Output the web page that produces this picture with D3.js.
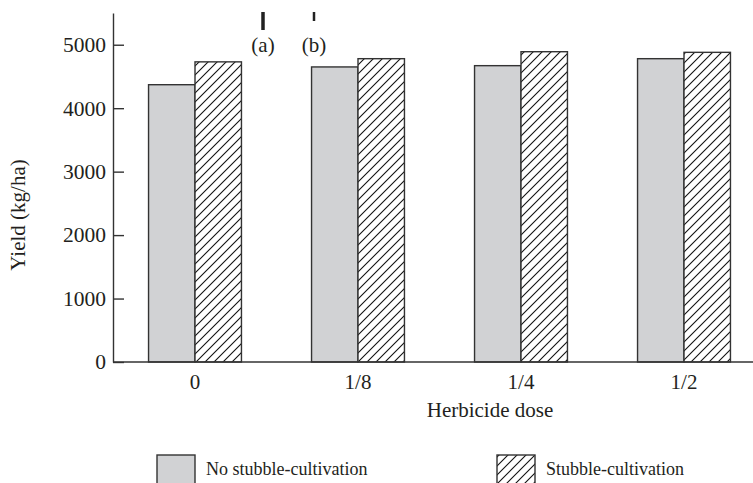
<!DOCTYPE html>
<html>
<head>
<meta charset="utf-8">
<script src="https://cdn.jsdelivr.net/npm/d3@7"></script>
<style>
  html, body { margin: 0; padding: 0; background: #fff; }
  svg { display: block; }
  text { font-family: "Liberation Serif", "Times New Roman", serif; fill: #231f20; }
</style>
</head>
<body>
<script>
const categories = ["0", "1/8", "1/4", "1/2"];
const seriesNames = ["No stubble-cultivation", "Stubble-cultivation"];
const noStubble = [4370, 4650, 4670, 4780];
const stubble = [4730, 4780, 4890, 4880];
const yTicks = [0, 1000, 2000, 3000, 4000, 5000];
const panelMarks = ["(a)", "(b)"];

const W = 753, H = 483;
const svg = d3.select("body").append("svg").attr("width", W).attr("height", H);

const defs = svg.append("defs");
const pat = defs.append("pattern")
  .attr("id", "hatch").attr("patternUnits", "userSpaceOnUse")
  .attr("width", 9).attr("height", 9);
pat.append("rect").attr("width", 9).attr("height", 9).attr("fill", "#fff");
pat.append("path")
  .attr("d", "M0,9 L9,0 M-2,2 L2,-2 M7,11 L11,7")
  .attr("stroke", "#111").attr("stroke-width", 1.1);

const x0 = 113, yBase = 362, yTop = 13;
const x = d3.scaleBand().domain(categories).range([113.5, 765.5])
  .paddingInner(0.43).paddingOuter(0.215);
const y = d3.scaleLinear().domain([0, 5500]).range([yBase, yTop]);

const fills = ["#d1d2d4", "url(#hatch)"];
const data = [noStubble, stubble];
const bw = x.bandwidth() / 2;

data.forEach((vals, s) => {
  svg.append("g").selectAll("rect").data(categories).join("rect")
    .attr("x", d => x(d) + s * bw)
    .attr("y", (d, i) => y(vals[i]))
    .attr("width", bw)
    .attr("height", (d, i) => yBase - y(vals[i]))
    .attr("fill", fills[s])
    .attr("stroke", "#333")
    .attr("stroke-width", 1.4);
});

// Y axis
const yAxis = d3.axisLeft(y).tickValues(yTicks).tickFormat(d3.format("d"))
  .tickSizeInner(-11).tickSizeOuter(0).tickPadding(7);
const gy = svg.append("g").attr("transform", `translate(${x0},0)`).call(yAxis);
gy.select(".domain").attr("stroke", "#333").attr("stroke-width", 1.4);
gy.selectAll(".tick line").attr("stroke", "#333").attr("stroke-width", 1.4);
gy.selectAll(".tick text").attr("font-size", 21.5).attr("font-family", "Liberation Serif").attr("fill", "#231f20");

// X axis
const xAxis = d3.axisBottom(x).tickSize(0).tickPadding(12);
const gx = svg.append("g").attr("transform", `translate(0,${yBase})`).call(xAxis);
gx.select(".domain").remove();
gx.selectAll(".tick text")
  .attr("x", bw - x.bandwidth() / 2)
  .attr("font-size", 21).attr("font-family", "Liberation Serif").attr("fill", "#231f20");
svg.append("line").attr("x1", x0).attr("x2", W).attr("y1", yBase).attr("y2", yBase)
  .attr("stroke", "#333").attr("stroke-width", 1.4);

// Axis titles
svg.append("text").attr("x", 490).attr("y", 417).attr("text-anchor", "middle")
  .attr("font-size", 21).text("Herbicide dose");
svg.append("text").attr("transform", "translate(25,215) rotate(-90)")
  .attr("text-anchor", "middle").attr("font-size", 21).text("Yield (kg/ha)");

// Panel marks
const markX = [263, 314];
const markLen = [18, 9];
const markW = [3.5, 2.5];
panelMarks.forEach((t, i) => {
  svg.append("line").attr("x1", markX[i]).attr("x2", markX[i])
    .attr("y1", 12).attr("y2", 12 + markLen[i])
    .attr("stroke", "#222").attr("stroke-width", markW[i]);
  svg.append("text").attr("x", markX[i]).attr("y", 52).attr("text-anchor", "middle")
    .attr("font-size", 21).text(t);
});

// Legend
const legX = [157, 497];
seriesNames.forEach((n, i) => {
  svg.append("rect").attr("x", legX[i]).attr("y", 455).attr("width", 38).attr("height", 34)
    .attr("fill", fills[i]).attr("stroke", "#333").attr("stroke-width", 1.4);
  svg.append("text").attr("x", legX[i] + 49).attr("y", 475)
    .attr("font-size", 18).text(n);
});
</script>
</body>
</html>
